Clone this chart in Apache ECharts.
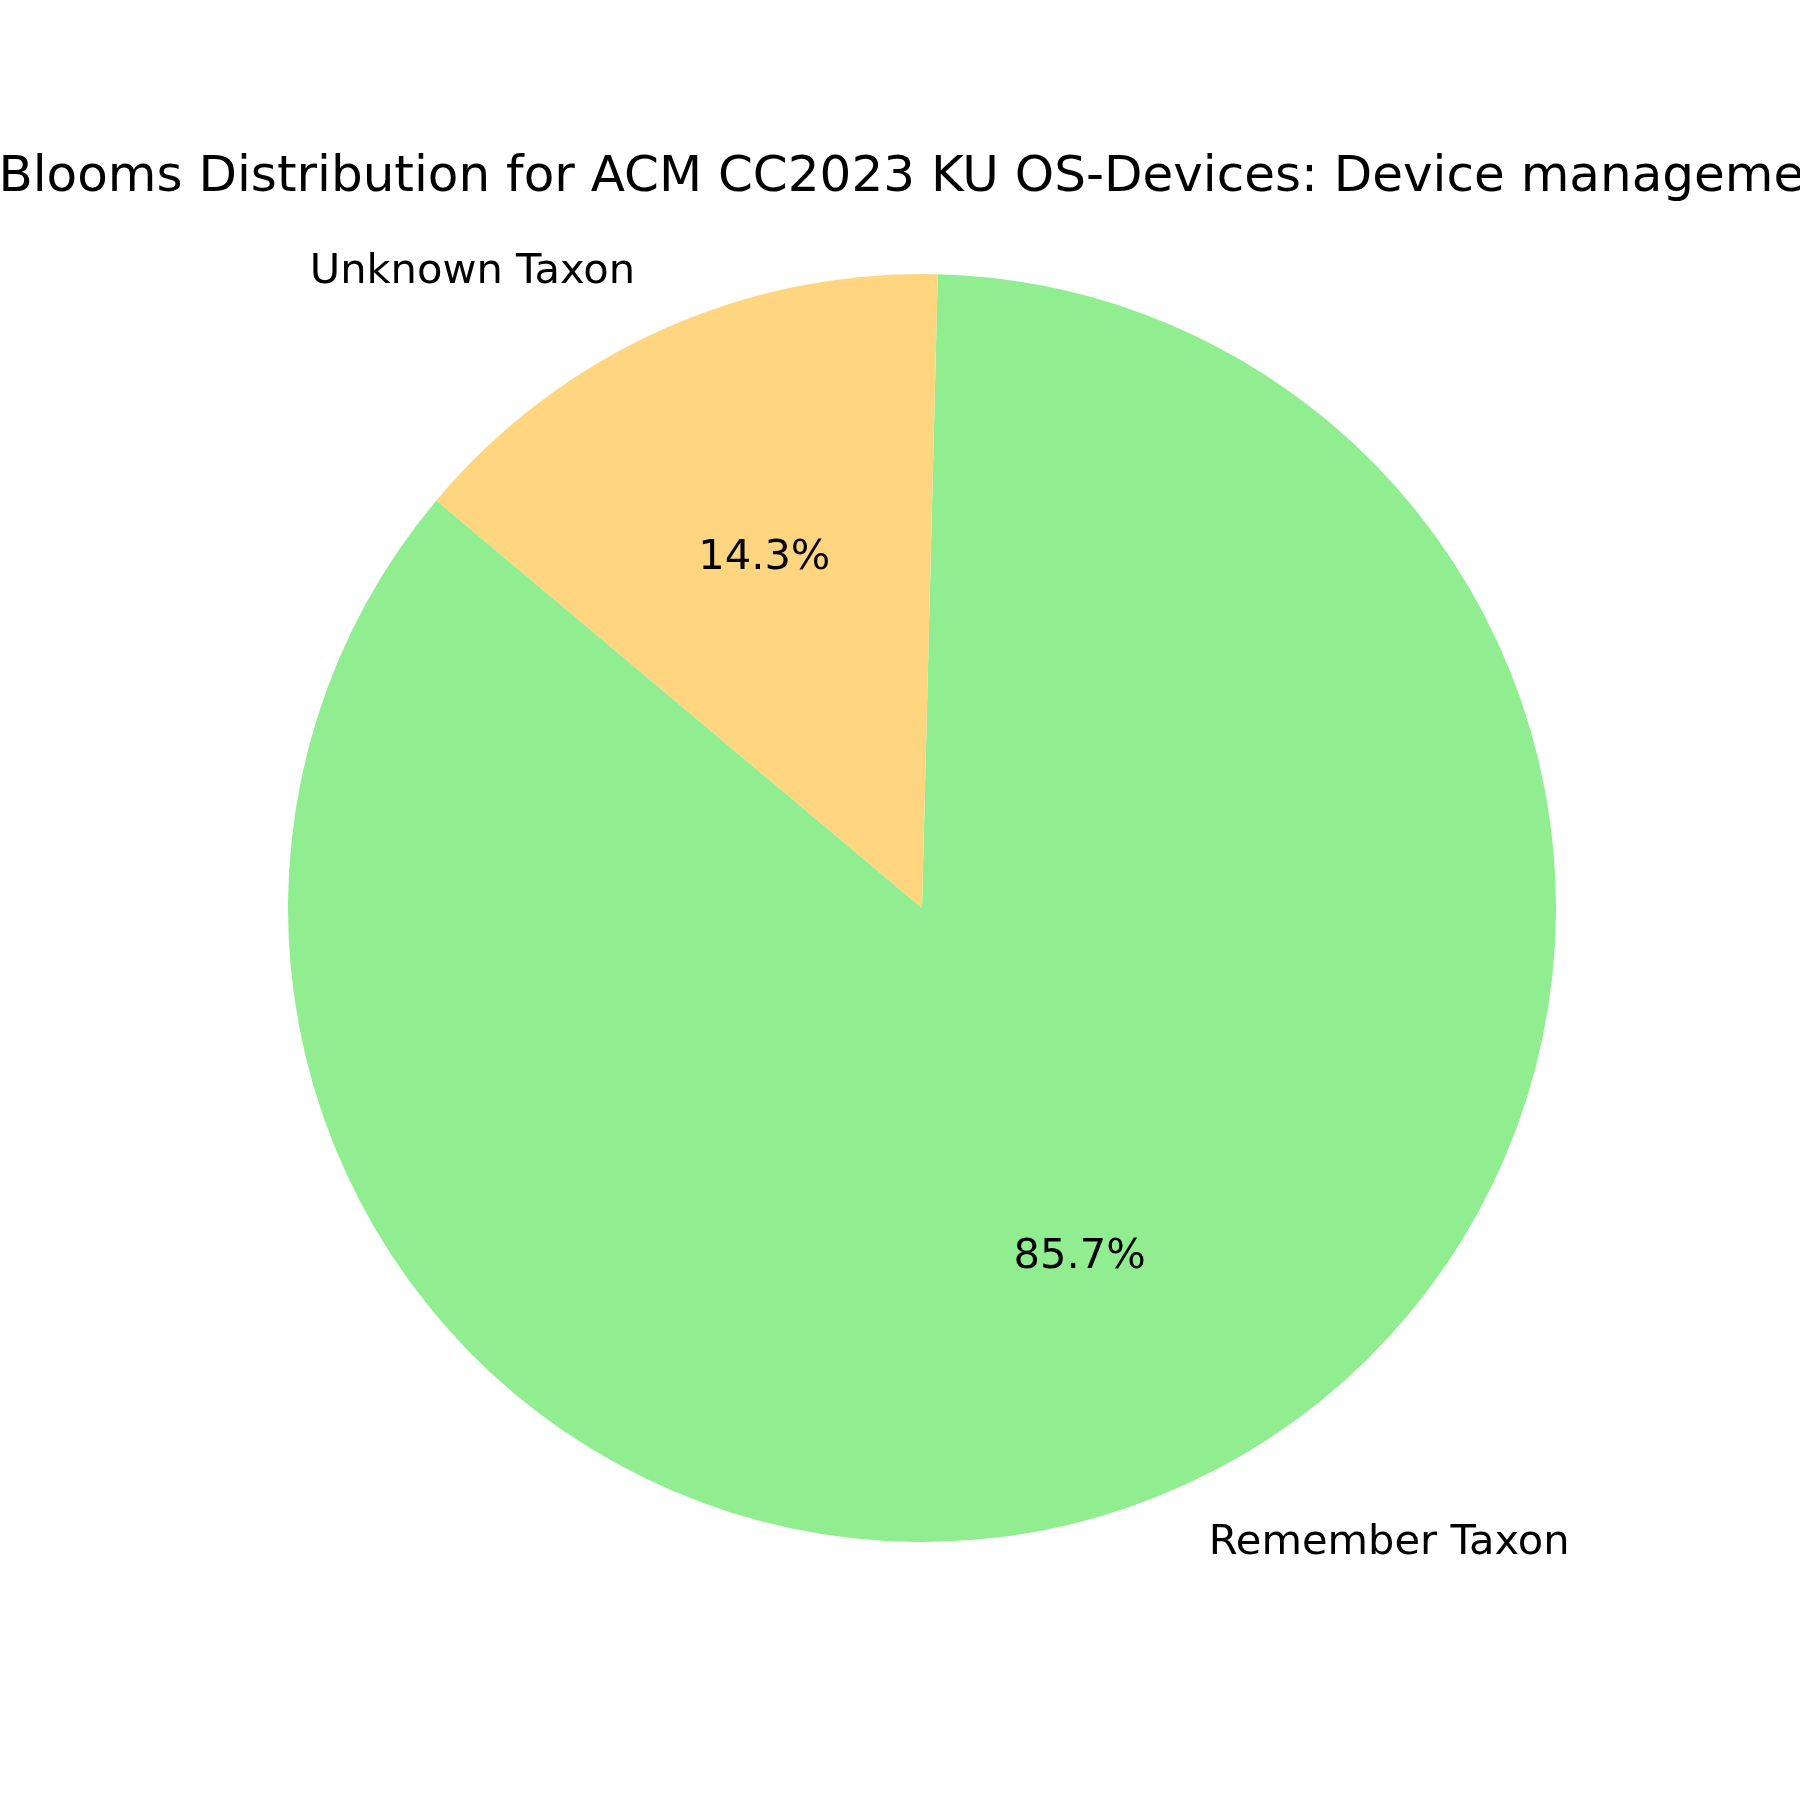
<!DOCTYPE html>
<html>
<head>
<meta charset="utf-8">
<script src="https://cdn.jsdelivr.net/npm/echarts@6/dist/echarts.min.js"></script>
<style>html,body{margin:0;padding:0;background:#fff}#c{width:1800px;height:1800px}</style>
</head>
<body>
<div id="c"></div>
<script>
const categories = ['Remember Taxon', 'Unknown Taxon'];
const values = [6, 1];
const colors = ['#90EE90', '#FFD580'];
const titleText = 'Blooms Distribution for ACM CC2023 KU OS-Devices: Device management';

const chart = echarts.init(document.getElementById('c'), null, {renderer: 'canvas'});
const R = 634, CX = 922, CY = 908;
const font = 'DejaVu Sans';
const data = categories.map((n, i) => ({name: n, value: values[i], itemStyle: {color: colors[i]}}));
const dataT = categories.map((n, i) => ({name: n, value: values[i]}));

chart.setOption({
  backgroundColor: '#ffffff',
  animation: false,
  title: {
    text: titleText,
    left: CX,
    top: 173,
    textAlign: 'center',
    textVerticalAlign: 'middle',
    textStyle: {fontFamily: font, fontSize: 50, fontWeight: 'normal', color: '#000'}
  },
  series: [
    {
      type: 'pie',
      center: [CX, CY],
      radius: [0, R],
      startAngle: 140,
      clockwise: false,
      avoidLabelOverlap: false,
      silent: true,
      itemStyle: {borderWidth: 0},
      label: {
        show: true,
        position: 'outside',
        formatter: '{b}',
        distanceToLabelLine: 0,
        fontFamily: font,
        fontSize: 41.6,
        color: '#000'
      },
      labelLine: {show: false, length: R * 0.1, length2: 0},
      emphasis: {disabled: true},
      data: data
    },
    {
      type: 'pie',
      center: [CX, CY],
      radius: [R * 0.2, R],
      startAngle: 140,
      clockwise: false,
      avoidLabelOverlap: false,
      silent: true,
      percentPrecision: 1,
      itemStyle: {color: 'rgba(0,0,0,0)', borderWidth: 0},
      label: {
        show: true,
        position: 'inside',
        formatter: '{d}%',
        fontFamily: font,
        fontSize: 41.6,
        color: '#000'
      },
      labelLine: {show: false},
      emphasis: {disabled: true},
      data: dataT
    }
  ]
});
</script>
</body>
</html>
